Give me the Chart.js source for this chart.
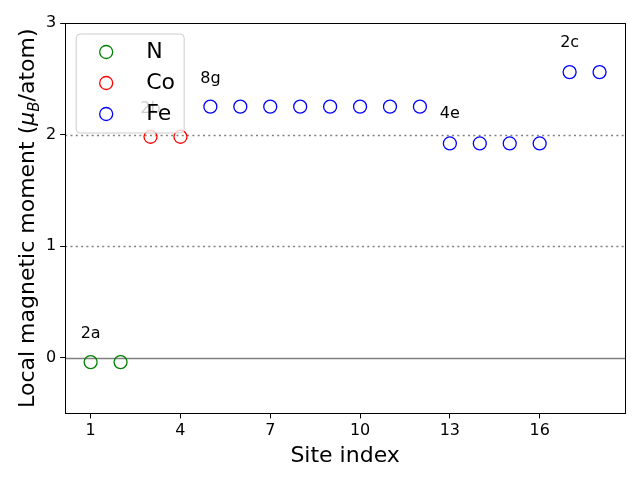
<!DOCTYPE html>
<html>
<head>
<meta charset="utf-8">
<script src="https://cdn.jsdelivr.net/npm/chart.js@4"></script>
<style>
  html, body { margin: 0; padding: 0; background: #fff; }
  #wrap { width: 640px; height: 480px; }
</style>
</head>
<body>
<div id="wrap"><canvas id="momentChart" width="640" height="480"></canvas></div>
<script>
// site data
const nSites = [1, 2];
const nMoments = [-0.04, -0.04];
const coSites = [3, 4];
const coMoments = [1.98, 1.98];
const feSites = [5, 6, 7, 8, 9, 10, 11, 12, 13, 14, 15, 16, 17, 18];
const feMoments = [2.25, 2.25, 2.25, 2.25, 2.25, 2.25, 2.25, 2.25, 1.92, 1.92, 1.92, 1.92, 2.56, 2.56];

// Wyckoff labels
const wyckoffLabels = ['2a', '2b', '8g', '4e', '2c'];
const labelSites = [1, 3, 5, 13, 17];
const labelMoments = [0.21, 2.23, 2.5, 2.19, 2.82];

const xTicks = [1, 4, 7, 10, 13, 16];
const yTicks = [0, 1, 2, 3];
const refLines = [0, 1, 2];

const FONT = "'DejaVu Sans', sans-serif";

function toPoints(xs, ys) {
    return xs.map((x, i) => ({ x: x, y: ys[i] }));
}

function series(label, xs, ys, color) {
    return {
        label: label,
        data: toPoints(xs, ys),
        borderColor: color,
        backgroundColor: 'rgba(0,0,0,0)',
        borderWidth: 1.3,
        pointRadius: 6.5,
        pointHoverRadius: 6.5,
        showLine: false
    };
}

// reference lines, text labels, frame, legend and y title
const decorations = {
    id: 'decorations',
    beforeDatasetsDraw(chart) {
        const c = chart.ctx, a = chart.chartArea;
        const y = chart.scales.y;
        c.save();
        refLines.forEach(v => {
            const py = Math.round(y.getPixelForValue(v)) + 0.5;
            c.beginPath();
            c.strokeStyle = '#808080';
            c.lineWidth = 1.5;
            c.setLineDash(v === 0 ? [] : [2, 3.3]);
            c.moveTo(a.left, py);
            c.lineTo(a.right, py);
            c.stroke();
        });
        c.restore();
    },
    afterDatasetsDraw(chart) {
        const c = chart.ctx, a = chart.chartArea;
        const x = chart.scales.x, y = chart.scales.y;
        c.save();
        // site labels
        c.font = '16px ' + FONT;
        c.fillStyle = '#000';
        c.textAlign = 'center';
        c.textBaseline = 'middle';
        wyckoffLabels.forEach((t, i) => {
            c.fillText(t, x.getPixelForValue(labelSites[i]), y.getPixelForValue(labelMoments[i]));
        });

        // frame
        c.strokeStyle = '#000';
        c.lineWidth = 1;
        c.strokeRect(Math.round(a.left) + 0.5, Math.round(a.top) + 0.5,
            Math.round(a.right - a.left), Math.round(a.bottom - a.top));

        // legend in upper left
        const bx = a.left + 11, by = a.top + 11, bw = 108, bh = 99, r = 4;
        c.beginPath();
        c.moveTo(bx + r, by);
        c.arcTo(bx + bw, by, bx + bw, by + bh, r);
        c.arcTo(bx + bw, by + bh, bx, by + bh, r);
        c.arcTo(bx, by + bh, bx, by, r);
        c.arcTo(bx, by, bx + bw, by, r);
        c.closePath();
        c.fillStyle = 'rgba(255,255,255,0.8)';
        c.fill();
        c.strokeStyle = '#cccccc';
        c.lineWidth = 1;
        c.stroke();
        c.font = '22px ' + FONT;
        c.textAlign = 'left';
        c.textBaseline = 'middle';
        chart.data.datasets.forEach((ds, i) => {
            const ry = by + 18 + i * 31;
            c.beginPath();
            c.arc(bx + 30, ry, 6.5, 0, Math.PI * 2);
            c.strokeStyle = ds.borderColor;
            c.lineWidth = 1.3;
            c.stroke();
            c.fillStyle = '#000';
            c.fillText(ds.label, bx + 70, ry);
        });

        // y axis title with subscript
        c.translate(26, (a.top + a.bottom) / 2);
        c.rotate(-Math.PI / 2);
        const parts = [
            ['Local magnetic moment (', '22px ' + FONT, 0],
            ['\u03bc', 'italic 22px ' + FONT, 0],
            ['B', 'italic 15px ' + FONT, 5],
            ['/atom)', '22px ' + FONT, 0]
        ];
        let total = 0;
        parts.forEach(p => { c.font = p[1]; total += c.measureText(p[0]).width; });
        let px = -total / 2;
        c.fillStyle = '#000';
        c.textBaseline = 'alphabetic';
        parts.forEach(p => {
            c.font = p[1];
            c.fillText(p[0], px, 8 + p[2]);
            px += c.measureText(p[0]).width;
        });
        c.restore();
    }
};

const ctx = document.getElementById('momentChart').getContext('2d');
new Chart(ctx, {
    type: 'scatter',
    data: {
        datasets: [
            series('N', nSites, nMoments, '#008000'),
            series('Co', coSites, coMoments, '#ff0000'),
            series('Fe', feSites, feMoments, '#0000ff')
        ]
    },
    options: {
        responsive: false,
        animation: false,
        layout: { padding: { left: 42, right: 15, top: 23, bottom: 11 } },
        plugins: {
            legend: { display: false },
            tooltip: { enabled: false }
        },
        scales: {
            x: {
                type: 'linear',
                min: 0.15,
                max: 18.85,
                afterBuildTicks: axis => { axis.ticks = xTicks.map(v => ({ value: v })); },
                grid: { drawOnChartArea: false, drawTicks: true, tickLength: 5, color: '#000' },
                border: { color: '#000' },
                ticks: { color: '#000', font: { family: FONT, size: 16 }, padding: 3 },
                title: { display: true, text: 'Site index', color: '#000', font: { family: FONT, size: 22 }, padding: { top: -1, bottom: 0 } }
            },
            y: {
                min: -0.5,
                max: 3,
                afterBuildTicks: axis => { axis.ticks = yTicks.map(v => ({ value: v })); },
                grid: { drawOnChartArea: false, drawTicks: true, tickLength: 5, color: '#000' },
                border: { color: '#000' },
                ticks: { color: '#000', font: { family: FONT, size: 16 }, padding: 4 }
            }
        }
    },
    plugins: [decorations]
});
</script>
</body>
</html>
